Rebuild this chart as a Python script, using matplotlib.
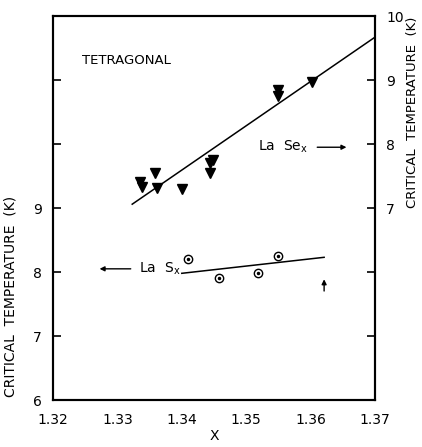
import matplotlib
matplotlib.use("Agg")
import matplotlib.pyplot as plt

# LaSe_x data (right axis)
se_x = [1.3335, 1.3338, 1.3358, 1.3361, 1.3400, 1.3444, 1.3448, 1.3444, 1.3549, 1.3549, 1.3602]
se_tc = [7.40, 7.33, 7.55, 7.31, 7.30, 7.70, 7.75, 7.55, 8.84, 8.75, 8.97]
se_fit_x = [1.3323, 1.3700]
se_fit_tc = [7.06, 9.67]

# LaS_x data (left axis)
s_x = [1.3410, 1.3458, 1.3518, 1.3549]
s_tc = [8.20, 7.91, 7.98, 8.25]
s_fit_x = [1.3400, 1.3621]
s_fit_tc = [7.98, 8.23]

xticks = [1.32, 1.33, 1.34, 1.35, 1.36, 1.37]
xticklabels = ["1.32", "1.33", "1.34", "1.35", "1.36", "1.37"]
left_ticks = [6, 7, 8, 9, 10, 11]
left_labels = ["6", "7", "8", "9", "", ""]
right_ticks = [5, 6, 7, 8, 9, 10]
right_labels = ["", "", "7", "8", "9", "10"]

plt.rcParams['font.family'] = ['DejaVu Sans']
fig = plt.figure(figsize=(4.22, 4.47), dpi=100)
ax = fig.add_axes([0.1256, 0.1051, 0.763, 0.859])
ax2 = ax.twinx()

ax.set_xlim(1.32, 1.37)
ax.set_ylim(6, 12)
ax2.set_ylim(4, 10)

ax.set_xticks(xticks)
ax.set_xticklabels(xticklabels)
ax.set_yticks(left_ticks)
ax.set_yticklabels(left_labels)
ax2.set_yticks(right_ticks)
ax2.set_yticklabels(right_labels)

for a in (ax, ax2):
    a.tick_params(direction='in', length=6, width=1.2, labelsize=10, pad=8)
    for s in a.spines.values():
        s.set_linewidth(1.5)
ax.tick_params(axis='x', length=0, pad=9)
ax.tick_params(axis='y', right=False)

# LaSe
ax2.plot(se_fit_x, se_fit_tc, color='black', lw=1.1)
ax2.plot(se_x, se_tc, linestyle='none', marker='v', ms=7, color='black')

# LaS
ax.plot(s_fit_x, s_fit_tc, color='black', lw=1.1)
ax.plot(s_x, s_tc, linestyle='none', marker='o', ms=6, mfc='white', mec='black', mew=1.0)
ax.plot(s_x, s_tc, linestyle='none', marker='o', ms=1.5, color='black')

# annotations
ax.text(1.3245, 11.3, "TETRAGONAL", fontsize=9.5, va='center', ha='left')
ax2.text(1.3518, 7.95, r"La  Se$_{\mathregular{x}}$", fontsize=10, va='center', ha='left')
ax2.annotate("", xy=(1.3660, 7.95), xytext=(1.3606, 7.95),
             arrowprops=dict(arrowstyle='-|>', color='black', lw=1.0, mutation_scale=7))
ax.text(1.3398, 8.05, r"La  S$_{\mathregular{x}}$", fontsize=10, va='center', ha='right')
ax.annotate("", xy=(1.3268, 8.05), xytext=(1.3325, 8.05),
            arrowprops=dict(arrowstyle='-|>', color='black', lw=1.0, mutation_scale=7))
ax.annotate("", xy=(1.3621, 7.93), xytext=(1.3621, 7.66),
            arrowprops=dict(arrowstyle='-|>', color='black', lw=1.0, mutation_scale=7))

ax.set_xlabel("X", fontsize=10, labelpad=2)
ax.set_ylabel("CRITICAL  TEMPERATURE  (K)", fontsize=10)
ax.yaxis.set_label_coords(-0.11, 0.27)
ax2.set_ylabel("CRITICAL  TEMPERATURE  (K)", fontsize=9.5, rotation=90)
ax2.yaxis.set_label_coords(1.095, 0.75)

fig.savefig("out.png", dpi=100)
